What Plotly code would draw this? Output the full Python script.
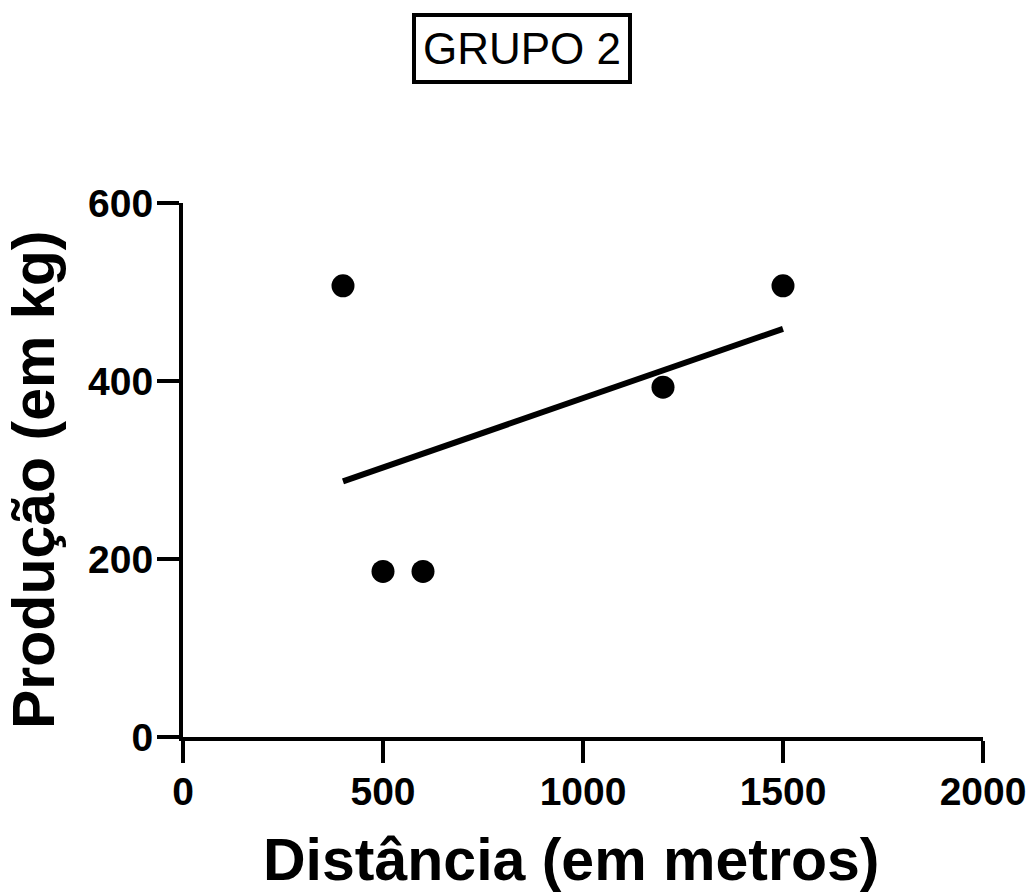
import numpy as np
import plotly.graph_objects as go

distancia = [400, 500, 600, 1200, 1500]
producao = [507, 186, 186, 393, 507]
x_ticks = [0, 500, 1000, 1500, 2000]
y_ticks = [0, 200, 400, 600]
title_text = "GRUPO 2"
x_title = "Distância (em metros)"
y_title = "Produção (em kg)"

slope, intercept = np.polyfit(distancia, producao, 1)
fit_x = [min(distancia), max(distancia)]
fit_y = [slope * v + intercept for v in fit_x]

FONT = "Liberation Sans, Arial, sans-serif"

fig = go.Figure()
fig.add_trace(go.Scatter(x=fit_x, y=fit_y, mode="lines",
                         line=dict(color="black", width=6), showlegend=False))
fig.add_trace(go.Scatter(x=distancia, y=producao, mode="markers",
                         marker=dict(color="black", size=23), showlegend=False))

axis_common = dict(showline=True, linecolor="black", linewidth=4, ticks="outside",
                   ticklen=22, tickwidth=4, tickcolor="black", showgrid=False,
                   zeroline=False, automargin=False,
                   tickfont=dict(family=FONT, size=39, color="black", weight="bold"))

fig.update_xaxes(range=[0, 2000], tickvals=x_ticks, ticktext=[str(v) for v in x_ticks],
                 ticklabelstandoff=-5, **axis_common)
fig.update_yaxes(range=[0, 600], tickvals=y_ticks, ticktext=[str(v) for v in y_ticks],
                 ticklabelstandoff=-4, **axis_common)

title_font = dict(family=FONT, size=59, color="black", weight="bold")
fig.add_annotation(text=x_title, xref="paper", yref="paper", x=0.485, y=-0.2303,
                   xanchor="center", yanchor="middle", showarrow=False, font=title_font)
fig.add_annotation(text=y_title, xref="paper", yref="paper", x=-0.18625, y=0.4813,
                   xanchor="center", yanchor="middle", showarrow=False, font=title_font,
                   textangle=-90)

fig.add_annotation(text=title_text, xref="paper", yref="paper", x=0.424, y=1.29,
                   xanchor="center", yanchor="middle", showarrow=False,
                   font=dict(family=FONT, size=44, color="black"),
                   bordercolor="black", borderwidth=4, borderpad=7, bgcolor="white")

fig.update_layout(width=1032, height=895, plot_bgcolor="white", paper_bgcolor="white",
                  margin=dict(l=183, r=49, t=203, b=158))

fig.write_html("out.html")
